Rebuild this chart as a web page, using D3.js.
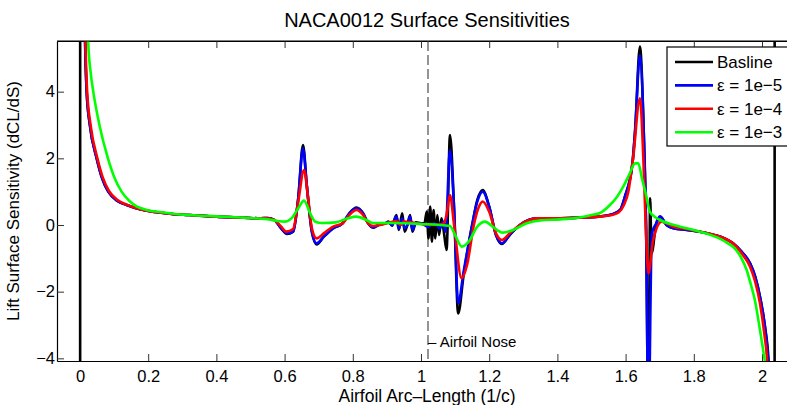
<!DOCTYPE html>
<html>
<head>
<meta charset="utf-8">
<script src="https://cdn.jsdelivr.net/npm/d3@7"></script>
<style>
  body { margin: 0; background: #fff; }
  svg { display: block; font-family: "Liberation Sans", Arial, sans-serif; }
</style>
</head>
<body>
<svg id="chart" width="787" height="405"></svg>
<script>
'use strict';

// series data, [arc length, dCL/dS]
var baseline = [
  [0.0, -80], [0.001, 80], [0.011, 8.5], [0.015, 5.5], [0.0196, 4.0], [0.029, 3.0], [0.049, 2.0],
  [0.065, 1.4], [0.083, 1.0], [0.11, 0.72], [0.137, 0.6], [0.176, 0.47], [0.22, 0.39],
  [0.27, 0.33], [0.32, 0.3], [0.4, 0.25], [0.48, 0.22], [0.53, 0.2], [0.55, 0.21],
  [0.57, 0.15], [0.59, -0.1], [0.607, -0.27], [0.625, -0.2], [0.64, 0.8], [0.654, 2.4], [0.665, 1.2],
  [0.68, -0.2], [0.694, -0.58], [0.715, -0.35], [0.742, -0.1], [0.77, 0.05], [0.79, 0.35], [0.811, 0.52],
  [0.83, 0.35], [0.845, 0.05], [0.86, -0.08], [0.875, 0.0], [0.895, 0.05], [0.905, 0.1], [0.915, -0.02],
  [0.928, 0.3], [0.935, -0.15], [0.945, 0.35], [0.952, -0.2], [0.96, 0.0], [0.968, 0.3], [0.975, -0.2],
  [0.985, 0.08], [1.0, 0.05], [1.01, 0.05], [1.017, 0.4], [1.022, -0.4], [1.027, 0.55], [1.032, -0.5],
  [1.037, 0.45], [1.042, -0.4], [1.048, 0.3], [1.053, -0.3], [1.06, 0.2], [1.067, -0.2], [1.075, -0.75],
  [1.085, 2.7], [1.097, 0.5], [1.109, -2.65], [1.125, -1.5], [1.15, 0.0], [1.165, 0.75], [1.181, 1.05],
  [1.2, 0.55], [1.22, -0.3], [1.237, -0.57], [1.26, -0.3], [1.29, 0.0], [1.34, 0.2], [1.4, 0.2],
  [1.46, 0.22], [1.52, 0.25], [1.56, 0.32], [1.584, 0.45], [1.598, 0.85], [1.62, 1.85], [1.628, 2.85],
  [1.642, 5.35], [1.653, 2.85], [1.66, 0.0], [1.667, -6], [1.672, 0.8], [1.676, -0.85], [1.69, 0.05],
  [1.701, 0.25], [1.72, 0.0], [1.74, -0.1], [1.78, -0.15], [1.818, -0.2], [1.86, -0.3], [1.89, -0.4],
  [1.915, -0.55], [1.94, -0.8], [1.965, -1.15], [1.98, -1.55], [1.994, -2.15], [2.008, -3.0],
  [2.02, -4.2], [2.036, -80], [2.038, 80]
];

var eps1e5 = [
  [0.006, 14], [0.01, 8.5], [0.015, 5.5], [0.0196, 4.0], [0.029, 3.0], [0.049, 2.0],
  [0.065, 1.4], [0.083, 1.0], [0.11, 0.72], [0.137, 0.6], [0.176, 0.47], [0.22, 0.39],
  [0.27, 0.33], [0.32, 0.3], [0.4, 0.25], [0.48, 0.22], [0.53, 0.2], [0.55, 0.21], [0.57, 0.15],
  [0.59, -0.1], [0.607, -0.25], [0.625, -0.2], [0.64, 0.8], [0.654, 2.3], [0.665, 1.2], [0.68, -0.2],
  [0.694, -0.55], [0.715, -0.35], [0.742, -0.1], [0.77, 0.05], [0.79, 0.35], [0.811, 0.5], [0.83, 0.35],
  [0.845, 0.05], [0.86, -0.08], [0.875, 0.0], [0.895, 0.05], [0.905, 0.08], [0.915, 0.0], [0.928, 0.25],
  [0.935, -0.1], [0.945, 0.2], [0.952, -0.1], [0.96, 0.0], [0.968, 0.25], [0.975, -0.15], [0.985, 0.05],
  [1.0, 0.05], [1.02, -0.05], [1.04, 0.05], [1.055, -0.1], [1.065, 0.1], [1.072, -0.2], [1.085, 2.25],
  [1.097, 0.5], [1.109, -2.35], [1.125, -1.4], [1.15, 0.0], [1.165, 0.7], [1.181, 1.0], [1.2, 0.55],
  [1.22, -0.3], [1.237, -0.55], [1.26, -0.3], [1.29, 0.0], [1.34, 0.2], [1.4, 0.2], [1.46, 0.22],
  [1.52, 0.25], [1.56, 0.32], [1.584, 0.45], [1.598, 0.85], [1.62, 1.85], [1.628, 2.85], [1.642, 5.1],
  [1.653, 2.85], [1.66, 0.0], [1.667, -6], [1.677, -0.25], [1.69, 0.05], [1.701, 0.25], [1.72, 0.0],
  [1.74, -0.1], [1.78, -0.15], [1.818, -0.2], [1.86, -0.3], [1.89, -0.4], [1.915, -0.55], [1.94, -0.8],
  [1.965, -1.15], [1.98, -1.55], [1.994, -2.15], [2.008, -3.0], [2.018, -4.05], [2.025, -5.5]
];

var eps1e4 = [
  [0.007, 14], [0.011, 8.5], [0.016, 5.5], [0.021, 4.0], [0.031, 3.0], [0.051, 2.0],
  [0.067, 1.42], [0.085, 1.02], [0.11, 0.75], [0.137, 0.61], [0.176, 0.47], [0.22, 0.39],
  [0.27, 0.33], [0.32, 0.3], [0.4, 0.25], [0.48, 0.22], [0.53, 0.2], [0.55, 0.2], [0.57, 0.15],
  [0.59, -0.05], [0.605, -0.2], [0.625, -0.12], [0.64, 0.7], [0.657, 1.65], [0.668, 0.9], [0.68, -0.1],
  [0.694, -0.4], [0.715, -0.25], [0.742, -0.05], [0.77, 0.05], [0.79, 0.3], [0.811, 0.45], [0.83, 0.3],
  [0.845, 0.05], [0.86, -0.03], [0.9, 0.05], [0.93, 0.12], [0.94, 0.0], [0.95, 0.1], [0.97, 0.08],
  [1.0, 0.03], [1.04, 0.0], [1.065, 0.03], [1.075, 0.3], [1.085, 0.9], [1.097, 0.0], [1.119, -1.6],
  [1.135, -1.2], [1.155, 0.0], [1.168, 0.5], [1.181, 0.7], [1.2, 0.4], [1.22, -0.25], [1.237, -0.45],
  [1.26, -0.25], [1.29, 0.0], [1.34, 0.2], [1.4, 0.2], [1.46, 0.22], [1.52, 0.25], [1.56, 0.3],
  [1.58, 0.38], [1.595, 0.6], [1.608, 1.0], [1.622, 2.0], [1.642, 3.8], [1.652, 2.0], [1.66, -0.3],
  [1.667, -1.45], [1.68, -0.5], [1.706, 0.1], [1.74, -0.05], [1.78, -0.12], [1.818, -0.2], [1.86, -0.3],
  [1.89, -0.4], [1.915, -0.55], [1.94, -0.85], [1.965, -1.25], [1.98, -1.7], [1.994, -2.35],
  [2.006, -3.2], [2.015, -4.05], [2.022, -5.5]
];

var eps1e3 = [
  [0.013, 14], [0.018, 8.5], [0.024, 5.5], [0.031, 4.6], [0.039, 4.0], [0.057, 3.0], [0.082, 2.0],
  [0.1, 1.45], [0.122, 1.0], [0.145, 0.72], [0.166, 0.56], [0.196, 0.45], [0.24, 0.38], [0.28, 0.33],
  [0.32, 0.3], [0.4, 0.26], [0.48, 0.22], [0.55, 0.17], [0.58, 0.12], [0.6, 0.1], [0.62, 0.2],
  [0.64, 0.5], [0.657, 0.73], [0.675, 0.35], [0.69, 0.1], [0.71, 0.06], [0.75, 0.08], [0.785, 0.2],
  [0.81, 0.25], [0.84, 0.15], [0.86, 0.06], [0.92, 0.06], [1.0, 0.03], [1.085, -0.03], [1.1, -0.3],
  [1.12, -0.65], [1.14, -0.5], [1.165, -0.05], [1.188, 0.1], [1.21, -0.05], [1.24, -0.23], [1.27, -0.15],
  [1.31, 0.05], [1.35, 0.14], [1.408, 0.17], [1.46, 0.22], [1.5, 0.3], [1.525, 0.36], [1.554, 0.6],
  [1.575, 0.85], [1.593, 1.15], [1.61, 1.5], [1.628, 1.85], [1.637, 1.85], [1.648, 1.4], [1.66, 0.9],
  [1.671, 0.4], [1.685, 0.25], [1.701, 0.15], [1.76, -0.05], [1.818, -0.2], [1.87, -0.38], [1.9, -0.55],
  [1.92, -0.7], [1.94, -1.0], [1.955, -1.35], [1.965, -1.7], [1.98, -2.3], [1.994, -3.15],
  [2.004, -3.8], [2.012, -4.4], [2.02, -5.5]
];

var seriesNames = ["Basline", "\u03b5 = 1e\u22125", "\u03b5 = 1e\u22124", "\u03b5 = 1e\u22123"];
var seriesColors = ["#000000", "#0000ff", "#ff0000", "#00ff00"];
var xTicks = [0, 0.2, 0.4, 0.6, 0.8, 1, 1.2, 1.4, 1.6, 1.8, 2];
var yTicks = [-4, -2, 0, 2, 4];
var noseX = 1.0205;

// plot box
var boxLeft = 57, boxRight = 797, boxTop = 41, boxBottom = 361;

var svg = d3.select('#chart');

var x = d3.scaleLinear().domain([-0.0674, 2.1026]).range([boxLeft, boxRight]);
var y = d3.scaleLinear().domain([-4.08, 5.52]).range([boxBottom, boxTop]);

svg.append('defs').append('clipPath').attr('id', 'plotclip')
  .append('rect')
  .attr('x', boxLeft).attr('y', boxTop)
  .attr('width', boxRight - boxLeft).attr('height', boxBottom - boxTop);

// title
svg.append('text')
  .attr('x', (boxLeft + boxRight) / 2).attr('y', 27)
  .attr('text-anchor', 'middle')
  .style('font-size', '20px')
  .text('NACA0012 Surface Sensitivities');

// axes (ticks point inward)
function fmt(d) { return d < 0 ? '\u2212' + Math.abs(d) : String(d); }

var xBottom = d3.axisBottom(x).tickValues(xTicks).tickSizeInner(-7).tickSizeOuter(0)
  .tickPadding(9).tickFormat(fmt);
var xTop = d3.axisTop(x).tickValues(xTicks).tickSizeInner(-7).tickSizeOuter(0).tickFormat('');
var yLeft = d3.axisLeft(y).tickValues(yTicks).tickSizeInner(-7).tickSizeOuter(0)
  .tickPadding(2).tickFormat(fmt);

var gx = svg.append('g').attr('transform', 'translate(0,' + boxBottom + ')').call(xBottom);
var gt = svg.append('g').attr('transform', 'translate(0,' + boxTop + ')').call(xTop);
var gy = svg.append('g').attr('transform', 'translate(' + boxLeft + ',0)').call(yLeft);

[gx, gt, gy].forEach(function(g) {
  g.select('.domain').attr('stroke', '#000').attr('stroke-width', 1.2);
  g.selectAll('.tick line').attr('stroke', '#333');
  g.selectAll('.tick text')
    .style('font-size', '16.5px')
    .style('font-family', '"Liberation Sans", Arial, sans-serif')
    .attr('fill', '#000');
});

// axis labels
svg.append('text')
  .attr('x', (boxLeft + boxRight) / 2).attr('y', 401.5)
  .attr('text-anchor', 'middle')
  .style('font-size', '17.5px')
  .text('Airfoil Arc\u2013Length (1/c)');

svg.append('text')
  .attr('transform', 'translate(18.5,' + ((boxTop + boxBottom) / 2) + ') rotate(-90)')
  .attr('text-anchor', 'middle')
  .style('font-size', '17px')
  .text('Lift Surface Sensitivity (dCL/dS)');

// airfoil nose marker
svg.append('line')
  .attr('x1', x(noseX)).attr('x2', x(noseX))
  .attr('y1', boxTop).attr('y2', boxBottom)
  .attr('stroke', '#666').attr('stroke-width', 1.4)
  .attr('stroke-dasharray', '10,4');

svg.append('text')
  .attr('x', x(noseX)).attr('y', 347)
  .style('font-size', '15px')
  .text('\u2013 Airfoil Nose');

// curves
var line = d3.line()
  .x(function(d) { return x(d[0]); })
  .y(function(d) { return y(d[1]); })
  .curve(d3.curveMonotoneX);

var allSeries = [baseline, eps1e5, eps1e4, eps1e3];
var plot = svg.append('g').attr('clip-path', 'url(#plotclip)');

plot.selectAll('path.series')
  .data(allSeries)
  .enter()
  .append('path')
  .attr('class', 'series')
  .attr('d', line)
  .attr('fill', 'none')
  .attr('stroke', function(d, i) { return seriesColors[i]; })
  .attr('stroke-width', 2.6)
  .attr('stroke-linejoin', 'round');

// top border redrawn over curves
svg.append('line')
  .attr('x1', boxLeft).attr('x2', boxRight).attr('y1', boxTop).attr('y2', boxTop)
  .attr('stroke', '#000').attr('stroke-width', 1.2);

// legend
var legend = svg.append('g').attr('transform', 'translate(667,47)');
legend.append('rect')
  .attr('width', 140).attr('height', 99)
  .attr('fill', '#fff').attr('stroke', '#000').attr('stroke-width', 1.2);

var rows = legend.selectAll('g.row')
  .data(seriesNames)
  .enter()
  .append('g')
  .attr('class', 'row')
  .attr('transform', function(d, i) { return 'translate(0,' + (15 + i * 23.4) + ')'; });

rows.append('line')
  .attr('x1', 8).attr('x2', 46)
  .attr('stroke', function(d, i) { return seriesColors[i]; })
  .attr('stroke-width', 2.6);

rows.append('text')
  .attr('x', 50).attr('y', 6)
  .style('font-size', '17px')
  .text(function(d) { return d; });
</script>
</body>
</html>
